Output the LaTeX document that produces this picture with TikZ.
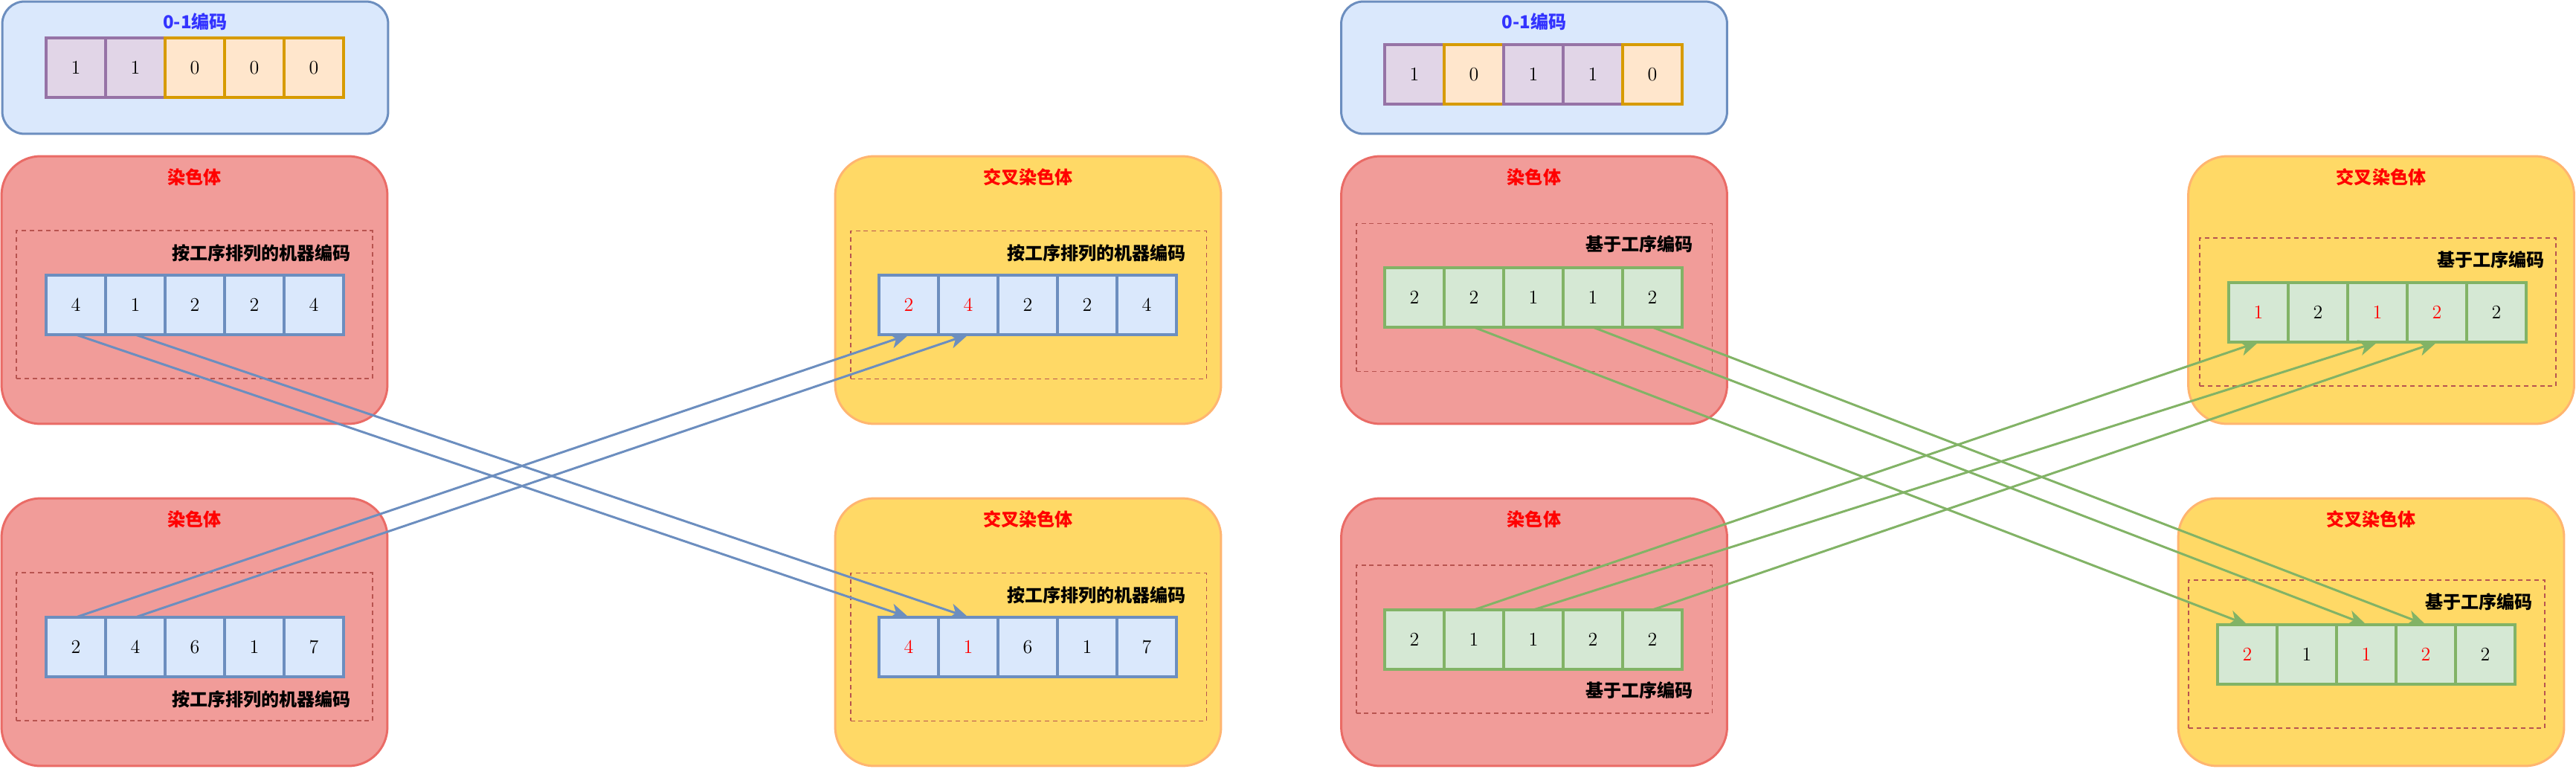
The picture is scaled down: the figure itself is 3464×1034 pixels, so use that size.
\documentclass[tikz,border=0pt]{standalone}
\usepackage{fontspec}
\newfontfamily\cjk{Noto Sans CJK SC}
\usetikzlibrary{positioning, arrows.meta}

\definecolor{boxblue}{HTML}{DAE8FC}
\definecolor{lineblue}{HTML}{6C8EBF}
\definecolor{redfill}{HTML}{F19C99}
\definecolor{redline}{HTML}{EA6B66}
\definecolor{yelfill}{HTML}{FFD966}
\definecolor{yelline}{HTML}{FFB570}
\definecolor{purfill}{HTML}{E1D5E7}
\definecolor{purline}{HTML}{9673A6}
\definecolor{orafill}{HTML}{FFE6CC}
\definecolor{oraline}{HTML}{D79B00}
\definecolor{grnfill}{HTML}{D5E8D4}
\definecolor{grnline}{HTML}{82B366}
\definecolor{dashred}{HTML}{B85450}
\definecolor{codetext}{HTML}{3333FF}

\begin{document}
\begin{tikzpicture}[
    x=0.02cm, y=-0.02cm,
    bigbox/.style={rectangle, rounded corners=1.05cm, line width=1.7pt, minimum width=10.38cm, minimum height=7.2cm},
    redbox/.style={bigbox, draw=redline, fill=redfill},
    yelbox/.style={bigbox, draw=yelline, fill=yelfill},
    codebox/.style={rectangle, rounded corners=0.6cm, line width=1.7pt, draw=lineblue, fill=boxblue, minimum width=10.38cm, minimum height=3.56cm},
    frame/.style={rectangle, draw=dashred, dash pattern=on 3.4pt off 2.8pt, line width=1.1pt, minimum width=9.58cm, minimum height=3.98cm},
    title/.style={font=\cjk\bfseries\fontsize{13.7}{16}\selectfont, text=red},
    codetitle/.style={title, text=codetext},
    lab/.style={font=\cjk\bfseries\fontsize{13.7}{16}\selectfont, anchor=east},
    cell/.style={rectangle, draw, line width=1.8pt, minimum size=1.6cm, outer sep=0pt, inner sep=0pt, font=\fontsize{14.8}{17}\selectfont},
    mcell/.style={cell, draw=lineblue, fill=boxblue},
    ocell/.style={cell, draw=grnline, fill=grnfill},
    one/.style={cell, draw=purline, fill=purfill},
    zero/.style={cell, draw=oraline, fill=orafill},
    hot/.style={text=red},
    marrow/.style={-{Stealth[length=0.5cm, width=0.42cm, inset=0.14cm]}, line width=1.7pt, draw=lineblue},
    oarrow/.style={marrow, draw=grnline}
  ]
  \useasboundingbox (0,0) rectangle (3464,1034);

  % Boxes - machine code side
  \node[codebox] (binA) at (262.5,91) {};
  \node[redbox] (chromA) at (261.5,390) {};
  \node[yelbox] (crossA) at (1382.5,390) {};
  \node[redbox] (chromB) at (261.5,850) {};
  \node[yelbox] (crossB) at (1382.5,850) {};

  % Boxes - operation code side
  \node[codebox] (binB) at (2063,91) {};
  \node[redbox] (chromC) at (2063,390) {};
  \node[yelbox] (crossC) at (3202,390) {};
  \node[redbox] (chromD) at (2063,850) {};
  \node[yelbox] (crossD) at (3188.5,850) {};

  % Dashed frames
  \node[frame] (frameA) at (261.5,409.5) {};
  \node[frame] (frameB) at (1383,410) {};
  \node[frame] (frameC) at (261.5,869.5) {};
  \node[frame] (frameD) at (1383,870) {};
  \node[frame] (frameE) at (2063,400) {};
  \node[frame] (frameF) at (2063,859.5) {};
  \node[frame] (frameG) at (3197.5,419.5) {};
  \node[frame] (frameH) at (3182.5,879.5) {};

  % Titles
  \node[codetitle] (tbinA) at ([yshift=-0.58cm]binA.north) {0-1编码};
  \node[codetitle] (tbinB) at ([yshift=-0.58cm]binB.north) {0-1编码};
  \node[title] (tchromA) at ([yshift=-0.6cm]chromA.north) {染色体};
  \node[title] (tcrossA) at ([yshift=-0.6cm]crossA.north) {交叉染色体};
  \node[title] (tchromB) at ([yshift=-0.6cm]chromB.north) {染色体};
  \node[title] (tcrossB) at ([yshift=-0.6cm]crossB.north) {交叉染色体};
  \node[title] (tchromC) at ([yshift=-0.6cm]chromC.north) {染色体};
  \node[title] (tcrossC) at ([yshift=-0.6cm]crossC.north) {交叉染色体};
  \node[title] (tchromD) at ([yshift=-0.6cm]chromD.north) {染色体};
  \node[title] (tcrossD) at ([yshift=-0.6cm]crossD.north) {交叉染色体};

  % Labels
  \node[lab] (lA) at (478,340) {按工序排列的机器编码};
  \node[lab] (lB) at (1601,340) {按工序排列的机器编码};
  \node[lab] (lC) at (478,940) {按工序排列的机器编码};
  \node[lab] (lD) at (1601,800) {按工序排列的机器编码};
  \node[lab] (lE) at (2283,328) {基于工序编码};
  \node[lab] (lF) at (2283,928) {基于工序编码};
  \node[lab] (lG) at (3428,349) {基于工序编码};
  \node[lab] (lH) at (3412,809) {基于工序编码};

  % 0-1 code, left
  \node[one] (ba1) at (102,91) {1};
  \node[one, right=0pt of ba1] (ba2) {1};
  \node[zero, right=0pt of ba2] (ba3) {0};
  \node[zero, right=0pt of ba3] (ba4) {0};
  \node[zero, right=0pt of ba4] (ba5) {0};

  % 0-1 code, right
  \node[one] (bb1) at (1902,100) {1};
  \node[zero, right=0pt of bb1] (bb2) {0};
  \node[one, right=0pt of bb2] (bb3) {1};
  \node[one, right=0pt of bb3] (bb4) {1};
  \node[zero, right=0pt of bb4] (bb5) {0};

  % Parent A - machine code
  \node[mcell] (ma1) at (102,410) {4};
  \node[mcell, right=0pt of ma1] (ma2) {1};
  \node[mcell, right=0pt of ma2] (ma3) {2};
  \node[mcell, right=0pt of ma3] (ma4) {2};
  \node[mcell, right=0pt of ma4] (ma5) {4};

  % Child A - machine code
  \node[mcell, hot] (mc1) at (1222,410) {2};
  \node[mcell, hot, right=0pt of mc1] (mc2) {4};
  \node[mcell, right=0pt of mc2] (mc3) {2};
  \node[mcell, right=0pt of mc3] (mc4) {2};
  \node[mcell, right=0pt of mc4] (mc5) {4};

  % Parent B - machine code
  \node[mcell] (mb1) at (102,870) {2};
  \node[mcell, right=0pt of mb1] (mb2) {4};
  \node[mcell, right=0pt of mb2] (mb3) {6};
  \node[mcell, right=0pt of mb3] (mb4) {1};
  \node[mcell, right=0pt of mb4] (mb5) {7};

  % Child B - machine code
  \node[mcell, hot] (md1) at (1222,870) {4};
  \node[mcell, hot, right=0pt of md1] (md2) {1};
  \node[mcell, right=0pt of md2] (md3) {6};
  \node[mcell, right=0pt of md3] (md4) {1};
  \node[mcell, right=0pt of md4] (md5) {7};

  % Parent A - operation code
  \node[ocell] (oa1) at (1902,400) {2};
  \node[ocell, right=0pt of oa1] (oa2) {2};
  \node[ocell, right=0pt of oa2] (oa3) {1};
  \node[ocell, right=0pt of oa3] (oa4) {1};
  \node[ocell, right=0pt of oa4] (oa5) {2};

  % Parent B - operation code
  \node[ocell] (ob1) at (1902,860) {2};
  \node[ocell, right=0pt of ob1] (ob2) {1};
  \node[ocell, right=0pt of ob2] (ob3) {1};
  \node[ocell, right=0pt of ob3] (ob4) {2};
  \node[ocell, right=0pt of ob4] (ob5) {2};

  % Child A - operation code
  \node[ocell, hot] (oc1) at (3037,420) {1};
  \node[ocell, right=0pt of oc1] (oc2) {2};
  \node[ocell, hot, right=0pt of oc2] (oc3) {1};
  \node[ocell, hot, right=0pt of oc3] (oc4) {2};
  \node[ocell, right=0pt of oc4] (oc5) {2};

  % Child B - operation code
  \node[ocell, hot] (od1) at (3022,880) {2};
  \node[ocell, right=0pt of od1] (od2) {1};
  \node[ocell, hot, right=0pt of od2] (od3) {1};
  \node[ocell, hot, right=0pt of od3] (od4) {2};
  \node[ocell, right=0pt of od4] (od5) {2};

  % Arrows
  \draw[marrow] (ma1.south) -- (md1.north);
  \draw[marrow] (ma2.south) -- (md2.north);
  \draw[marrow] (mb1.north) -- (mc1.south);
  \draw[marrow] (mb2.north) -- (mc2.south);
  \draw[oarrow] (oa2.south) -- (od1.north);
  \draw[oarrow] (oa4.south) -- (od3.north);
  \draw[oarrow] (oa5.south) -- (od4.north);
  \draw[oarrow] (ob2.north) -- (oc1.south);
  \draw[oarrow] (ob3.north) -- (oc3.south);
  \draw[oarrow] (ob5.north) -- (oc4.south);
\end{tikzpicture}
\end{document}
